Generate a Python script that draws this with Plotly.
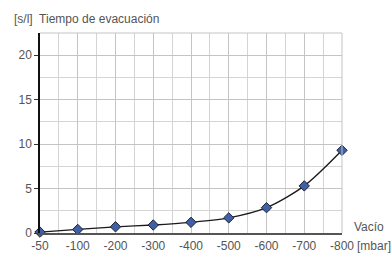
import plotly.graph_objects as go

vacuum_labels = ["-50", "-100", "-200", "-300", "-400", "-500", "-600", "-700", "-800"]
evac_time = [0.1, 0.4, 0.7, 0.9, 1.2, 1.7, 2.85, 5.3, 9.3]
y_ticks = [0, 5, 10, 15, 20]

W, H = 392, 253
L, R, T, B = 40, 50, 33, 20
pw, ph = W - L - R, H - T - B

xs = list(range(len(vacuum_labels)))

fig = go.Figure()
fig.add_trace(go.Scatter(
    x=xs, y=evac_time, mode="lines+markers",
    line=dict(color="#1a1a1a", width=1.3, shape="spline", smoothing=0.8),
    marker=dict(symbol="diamond", size=8, color="#3f5fa6",
                line=dict(color="#1c2235", width=1)),
    cliponaxis=False, showlegend=False, hoverinfo="skip",
))

font = dict(family="Liberation Sans, Arial, sans-serif", size=12, color="#555555")

fig.update_layout(
    width=W, height=H, margin=dict(l=L, r=R, t=T, b=B, autoexpand=False),
    paper_bgcolor="white", plot_bgcolor="white", font=font,
    xaxis=dict(
        range=[0, len(vacuum_labels) - 1], tickmode="array",
        tickvals=xs, ticktext=vacuum_labels, automargin=False,
        showgrid=True, gridcolor="#c4c4c4", gridwidth=1,
        minor=dict(dtick=0.5, tick0=0, showgrid=True, gridcolor="#d4d4d4", gridwidth=1),
        showline=True, linecolor="#555555", linewidth=2,
        ticks="", zeroline=False, tickfont=font, ticklabelstandoff=1,
    ),
    yaxis=dict(
        range=[0, 22.5], tickmode="array", tickvals=y_ticks,
        ticktext=[str(v) for v in y_ticks], automargin=False,
        showgrid=True, gridcolor="#c4c4c4", gridwidth=1,
        minor=dict(dtick=2.5, tick0=0, showgrid=True, gridcolor="#d4d4d4", gridwidth=1),
        showline=True, linecolor="#111111", linewidth=1.5,
        ticks="outside", ticklen=4, tickcolor="#333333",
        zeroline=False, tickfont=font, ticklabelstandoff=0,
    ),
    shapes=[
        dict(type="line", xref="paper", yref="paper", x0=1, x1=1, y0=0, y1=1,
             line=dict(color="#c4c4c4", width=1)),
        dict(type="line", xref="paper", yref="paper", x0=0, x1=1, y0=1, y1=1,
             line=dict(color="#c4c4c4", width=1)),
    ],
    annotations=[
        dict(text="[s/l]  Tiempo de evacuación", xref="paper", yref="paper",
             x=(12 - L) / pw, y=1 + (T - 19) / ph, xanchor="left", yanchor="middle",
             showarrow=False, font=font),
        dict(text="Vacío", xref="paper", yref="paper",
             x=(352.5 - L) / pw, y=(T + ph - 227) / ph, xanchor="left", yanchor="middle",
             showarrow=False, font=font),
        dict(text="[mbar]", xref="paper", yref="paper",
             x=(355 - L) / pw, y=(T + ph - 246) / ph, xanchor="left", yanchor="middle",
             showarrow=False, font=font),
    ],
)

fig.write_html(
    "out.html",
    config={"displayModeBar": False},
    post_script="document.body.style.margin='0';document.body.style.padding='0';",
)
